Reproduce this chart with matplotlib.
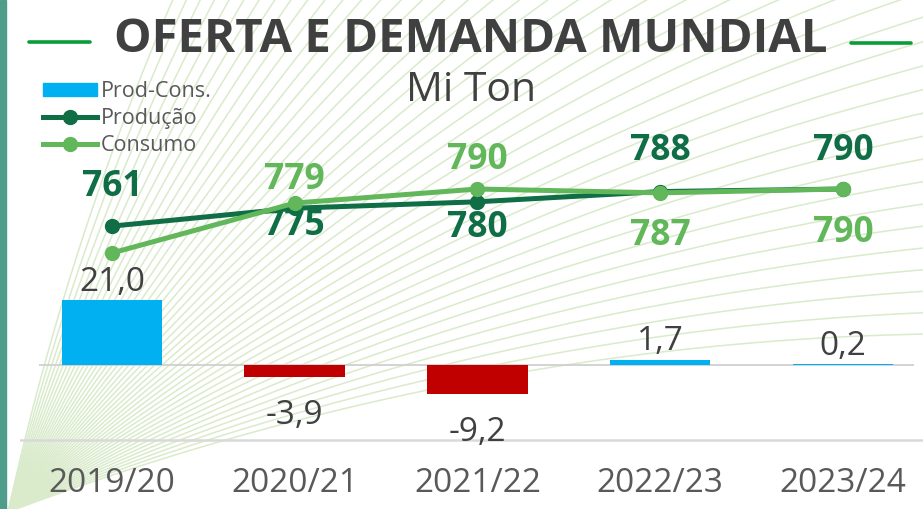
import numpy as np
import matplotlib
matplotlib.use("Agg")
import matplotlib.pyplot as plt
from matplotlib.patches import Patch, Rectangle
from matplotlib.lines import Line2D

plt.rcParams['font.family'] = ['Open Sans', 'DejaVu Sans']

# data
safras = ["2019/20", "2020/21", "2021/22", "2022/23", "2023/24"]
producao = [761, 775, 780, 788, 790]
consumo = [740, 779, 790, 787, 790]
saldo = [21.0, -3.9, -9.2, 1.7, 0.2]
saldo_txt = ["21,0", "-3,9", "-9,2", "1,7", "0,2"]
consumo_txt = [None, "779", "790", "787", "790"]

# label offsets (px, + = up) relative to the point
prod_off = [39, -18, -26, 41, 38]
cons_off = [0, 23, 29, -43, -44]

c_prod = '#0f6e46'
c_cons = '#62b75a'
c_pos = '#00b0f0'
c_neg = '#c00000'
c_txt = '#404040'

W, H = 923, 509
fig = plt.figure(figsize=(W / 100, H / 100), dpi=100)

# background fan of thin lines (decoration)
bg = fig.add_axes([0, 0, 1, 1])
bg.set_xlim(0, W)
bg.set_ylim(H, 0)
bg.axis('off')
ox, oy = 8, 512
for ang in np.linspace(np.radians(6), np.radians(63), 44):
    L = 1400
    ex, ey = ox + L * np.cos(ang), oy - L * np.sin(ang)
    mx, my = (ox + ex) / 2, (oy + ey) / 2
    # bend toward upper-left
    nx, ny = -np.sin(ang), -np.cos(ang)
    cx, cy = mx + nx * 0.13 * L, my + ny * 0.13 * L
    t = np.linspace(0, 1, 100)
    bx = (1 - t) ** 2 * ox + 2 * (1 - t) * t * cx + t ** 2 * ex
    by = (1 - t) ** 2 * oy + 2 * (1 - t) * t * cy + t ** 2 * ey
    bg.plot(bx, by, color='#d9ebcb', lw=1.1, zorder=0)
bg.add_patch(Rectangle((0, 0), 6, H, color='#4e9d8a', zorder=2))
bg.plot([29, 90], [42, 42], color='#0a9c3a', lw=2.6, solid_capstyle='round')
bg.plot([851, 911], [43, 43], color='#0a9c3a', lw=2.6, solid_capstyle='round')

fig.text(471 / W, 1 - 39 / H, "OFERTA E DEMANDA MUNDIAL", ha='center', va='center',
         fontsize=34, fontweight='bold', color=c_txt)
fig.text(471 / W, 1 - 91 / H, "Mi Ton", ha='center', va='center',
         fontsize=29.5, color=c_txt)

# main axes: x px 20..923, y px 0..450
ax = fig.add_axes([20 / W, 59 / H, 903 / W, 450 / H])
ax.patch.set_visible(False)
x = np.arange(len(safras))
ax.set_xlim(-0.503, 4.438)
ax.set_ylim(-85 / 3.1, 365 / 3.1)
cores = [c_pos if v >= 0 else c_neg for v in saldo]
ax.bar(x, saldo, width=0.55, color=cores, zorder=2)
ax.hlines(0, -0.40, 4.39, color='#d0d0d0', lw=1.3, zorder=1)
ax.axhline(-75 / 3.1, color='#d9d9d9', lw=1.8, zorder=1)
for s in ax.spines.values():
    s.set_visible(False)
ax.set_yticks([])
ax.set_xticks(x)
ax.set_xticklabels(safras, fontsize=24, color='#595959')
ax.tick_params(axis='x', length=0, pad=12)

for xi, v, t in zip(x, saldo, saldo_txt):
    if v >= 0:
        ax.annotate(t, (xi, v), xytext=(0, 1), textcoords='offset points',
                    ha='center', va='bottom', fontsize=24, color=c_txt)
    else:
        ax.annotate(t, (xi, v), xytext=(0, -16), textcoords='offset points',
                    ha='center', va='top', fontsize=24, color=c_txt)

ax2 = ax.twinx()
ax2.patch.set_visible(False)
ax2.set_ylim(790 - 261 / 1.28, 790 + 189 / 1.28)
for s in ax2.spines.values():
    s.set_visible(False)
ax2.set_yticks([])
ax2.plot(x, producao, color=c_prod, lw=3.6, marker='o', ms=10, zorder=3)
ax2.plot(x, consumo, color=c_cons, lw=3.6, marker='o', ms=10, zorder=4)

for xi, v, off in zip(x, producao, prod_off):
    ax2.annotate(str(v), (xi, v), xytext=(0, off * 0.72), textcoords='offset points',
                 ha='center', va='center', fontsize=25.5, fontweight='bold', color=c_prod)
for xi, v, t, off in zip(x, consumo, consumo_txt, cons_off):
    if t is None:
        continue
    ax2.annotate(t, (xi, v), xytext=(0, off * 0.72), textcoords='offset points',
                 ha='center', va='center', fontsize=25.5, fontweight='bold', color=c_cons)

handles = [Patch(color=c_pos),
           Line2D([], [], color=c_prod, lw=3.6, marker='o', ms=10),
           Line2D([], [], color=c_cons, lw=3.6, marker='o', ms=10)]
leg = fig.legend(handles, ["Prod-Cons.", "Produção", "Consumo"],
                 loc='upper left', bbox_to_anchor=(43 / W, 1 - 81 / H),
                 frameon=False, fontsize=15.5, handlelength=2.5, handleheight=0.55,
                 handletextpad=0.2, labelspacing=0.28, borderpad=0, borderaxespad=0)
for t in leg.get_texts():
    t.set_color('#595959')

fig.savefig("out.png", dpi=100)
